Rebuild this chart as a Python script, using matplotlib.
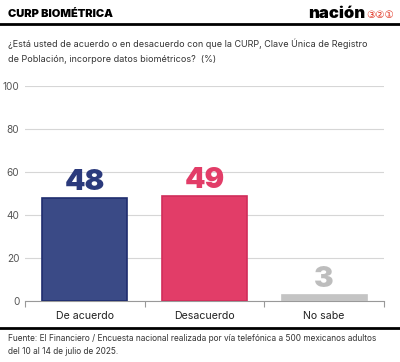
import matplotlib
matplotlib.use("Agg")
import matplotlib.pyplot as plt
from matplotlib.lines import Line2D

# Survey data
categories = ['De acuerdo', 'Desacuerdo', 'No sabe']
values = [48, 49, 3]
bar_colors = ['#3a4a86', '#e23d68', '#c4c4c4']
edge_colors = ['#1f2d6e', '#d02d5a', '#c4c4c4']
label_colors = ['#2b3a7c', '#e23d68', '#bdbdbd']
y_ticks = [0, 20, 40, 60, 80, 100]

plt.rcParams['font.family'] = ['Inter', 'DejaVu Sans']

fig = plt.figure(figsize=(4, 3.62), dpi=100)
ax = fig.add_axes([0.0625, 0.1685, 0.8975, 0.594])

x = list(range(len(categories)))
ax.bar(x, values, width=0.71, color=bar_colors, edgecolor=edge_colors, linewidth=1.2, zorder=3)
for xi, v, c in zip(x, values, label_colors):
    ax.text(xi, v + 0.6, str(v), ha='center', va='bottom', fontsize=21,
            fontweight='black', color=c, zorder=4)

ax.set_xlim(-0.5, 2.5)
ax.set_ylim(0, 100)
ax.set_yticks(y_ticks)
ax.set_yticklabels([str(t) for t in y_ticks], fontsize=7.2, color='#555555')
ax.set_xticks(x)
ax.set_xticklabels(categories, fontsize=7.6, color='#222222')
ax.set_xticks([-0.5, 0.5, 1.5, 2.5], minor=True)
ax.tick_params(axis='x', which='major', length=0, pad=7)
ax.tick_params(axis='x', which='minor', length=4, color='#999999', width=0.8)
ax.tick_params(axis='y', length=0, pad=4)
ax.yaxis.grid(True, color='#d6d6d6', linewidth=0.8, zorder=0)
for s in ['top', 'right', 'left']:
    ax.spines[s].set_visible(False)
ax.spines['bottom'].set_color('#999999')
ax.spines['bottom'].set_linewidth(0.8)

# Header
fig.text(0.02, 0.962, 'CURP BIOMÉTRICA', fontsize=8, fontweight='black', va='center', ha='left')
fig.text(0.914, 0.962, 'nación', fontsize=12, fontweight='black', va='center', ha='right')
fig.text(0.984, 0.958, '③②①', fontsize=7.5, color='#e0301e', va='center', ha='right',
         family=['DejaVu Sans'])
fig.add_artist(Line2D([0, 1], [0.933, 0.933], transform=fig.transFigure, color='black', linewidth=2))

fig.text(0.02, 0.878, '¿Está usted de acuerdo o en desacuerdo con que la CURP, Clave Única de Registro',
         fontsize=6.5, color='#333333', va='center', ha='left')
fig.text(0.02, 0.835, 'de Población, incorpore datos biométricos?  (%)',
         fontsize=6.5, color='#333333', va='center', ha='left')

# Footer
fig.add_artist(Line2D([0, 1], [0.094, 0.094], transform=fig.transFigure, color='black', linewidth=2))
fig.text(0.02, 0.066, 'Fuente: El Financiero / Encuesta nacional realizada por vía telefónica a 500 mexicanos adultos',
         fontsize=6.0, color='#333333', va='center', ha='left')
fig.text(0.02, 0.030, 'del 10 al 14 de julio de 2025.',
         fontsize=6.0, color='#333333', va='center', ha='left')

fig.savefig('out.png', dpi=100)
